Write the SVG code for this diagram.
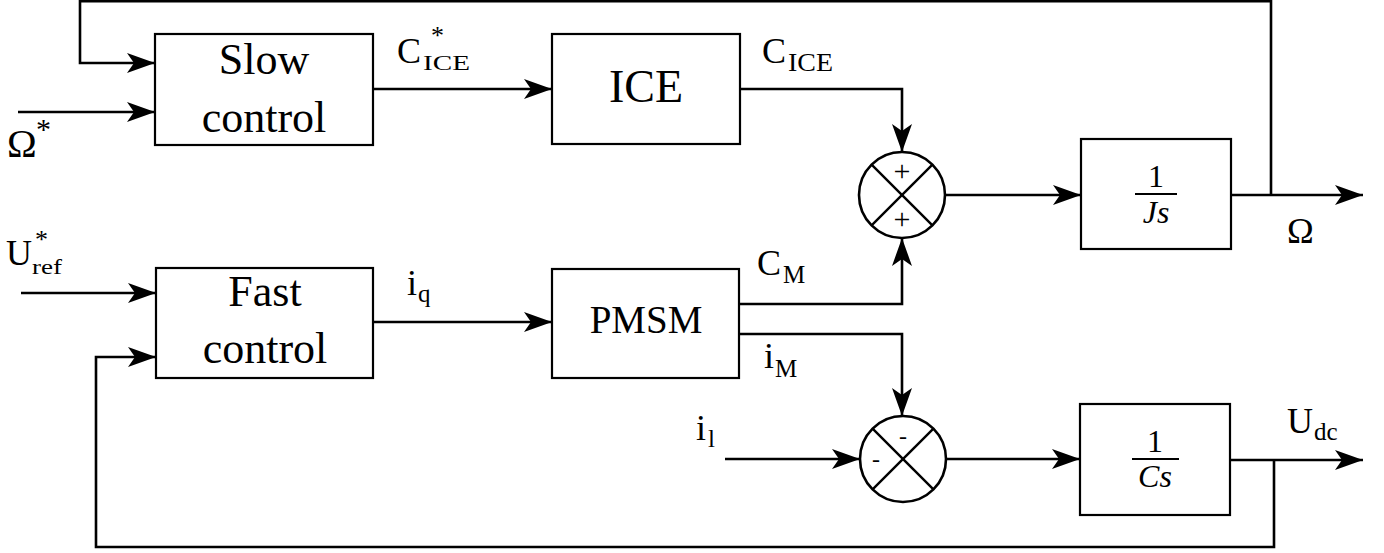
<svg xmlns="http://www.w3.org/2000/svg" width="1384" height="553" viewBox="0 0 1384 553">
<style>
.box{fill:#fff;stroke:#000;stroke-width:2.2}
.sum{fill:#fff;stroke:#000;stroke-width:2.6}
.x{stroke:#000;stroke-width:2.4}
.w{stroke:#000;stroke-width:2.6;fill:none}
.big{font-size:44px}
.lab{font-size:36px}
.sub{font-size:25px}
.sub2{font-size:22px}
.star{font-size:30px}
.star2{font-size:26px}
.frac{font-size:32px}
.it{font-style:italic}
.sgn{font-size:30px}
.mn{font-size:24px}
</style>
<defs>
<marker id="ah" viewBox="0 0 28 20" refX="28" refY="10" markerWidth="28" markerHeight="20" markerUnits="userSpaceOnUse" orient="auto">
<path d="M0,0 L28,10 L0,20 L7,10 z" fill="#000"/>
</marker>
</defs>
<rect width="1384" height="553" fill="#fff"/>
<g id="connectors">
<path class="w" d="M1271,195 V1.3 H80 V63 H155" marker-end="url(#ah)"/>
<path class="w" d="M18,112 H155" marker-end="url(#ah)"/>
<path class="w" d="M373,89 H552" marker-end="url(#ah)"/>
<path class="w" d="M740,89 H902 V152" marker-end="url(#ah)"/>
<path class="w" d="M945,195 H1081" marker-end="url(#ah)"/>
<path class="w" d="M1231,195 H1363" marker-end="url(#ah)"/>
<path class="w" d="M21,293 H156" marker-end="url(#ah)"/>
<path class="w" d="M1274,460 V547 H96 V357 H156" marker-end="url(#ah)"/>
<path class="w" d="M373,322 H552" marker-end="url(#ah)"/>
<path class="w" d="M739,304 H902 V238" marker-end="url(#ah)"/>
<path class="w" d="M739,334 H902 V416" marker-end="url(#ah)"/>
<path class="w" d="M725,459 H860" marker-end="url(#ah)"/>
<path class="w" d="M946,459 H1080" marker-end="url(#ah)"/>
<path class="w" d="M1230,460 H1363" marker-end="url(#ah)"/>
</g>
<g font-family="Liberation Serif, Tinos, Times New Roman, Noto Serif, DejaVu Serif, serif" fill="#000">
<g id="slow">
<rect class="box" x="155" y="34" width="218" height="111"/>
<text class="big" x="264" y="74" text-anchor="middle">Slow</text>
<text class="big" x="264" y="132" text-anchor="middle">control</text>
</g>
<g id="ice">
<rect class="box" x="552" y="34" width="188" height="110"/>
<text x="646" y="102" text-anchor="middle" font-size="46">ICE</text>
</g>
<g id="sum1">
<circle class="sum" cx="902" cy="195" r="43"/>
<line class="x" x1="871.6" y1="164.6" x2="932.4" y2="225.4"/>
<line class="x" x1="932.4" y1="164.6" x2="871.6" y2="225.4"/>
<text class="sgn" x="902" y="181" text-anchor="middle">+</text>
<text class="sgn" x="902" y="229" text-anchor="middle">+</text>
</g>
<g id="js">
<rect class="box" x="1081" y="139" width="150" height="110"/>
<text class="frac" x="1156" y="187" text-anchor="middle">1</text>
<line x1="1135" y1="194" x2="1177" y2="194" stroke="#000" stroke-width="2"/>
<text class="frac it" x="1156" y="223" text-anchor="middle">Js</text>
</g>
<g id="fast">
<rect class="box" x="156" y="268" width="217" height="110"/>
<text class="big" x="265" y="306" text-anchor="middle">Fast</text>
<text class="big" x="265" y="363" text-anchor="middle">control</text>
</g>
<g id="pmsm">
<rect class="box" x="552" y="269" width="187" height="109"/>
<text x="646" y="333" text-anchor="middle" font-size="39">PMSM</text>
</g>
<g id="sum2">
<circle class="sum" cx="903" cy="459" r="43"/>
<line class="x" x1="872.6" y1="428.6" x2="933.4" y2="489.4"/>
<line class="x" x1="933.4" y1="428.6" x2="872.6" y2="489.4"/>
<text class="mn" x="903" y="444" text-anchor="middle">-</text>
<text class="mn" x="876" y="467" text-anchor="middle">-</text>
</g>
<g id="cs">
<rect class="box" x="1080" y="404" width="150" height="111"/>
<text class="frac" x="1155" y="452" text-anchor="middle">1</text>
<line x1="1132" y1="459" x2="1179" y2="459" stroke="#000" stroke-width="2"/>
<text class="frac it" x="1155" y="487" text-anchor="middle">Cs</text>
</g>
<g id="labels">
<text class="lab" x="7" y="157"><tspan font-size="40">Ω</tspan><tspan class="star" x="36" y="139">*</tspan></text>
<text class="lab" x="397" y="63">C<tspan class="star2" x="431" y="44">*</tspan><tspan class="sub2" x="423" y="70" textLength="47" lengthAdjust="spacingAndGlyphs">ICE</tspan></text>
<text class="lab" x="762" y="63">C<tspan class="sub" x="788" y="71" textLength="45" lengthAdjust="spacingAndGlyphs">ICE</tspan></text>
<text class="lab" x="6" y="265">U<tspan class="star2" x="35" y="248">*</tspan><tspan class="sub2" x="32" y="274" textLength="30" lengthAdjust="spacingAndGlyphs">ref</tspan></text>
<text class="lab" x="407" y="295">i<tspan class="sub" x="418" y="302">q</tspan></text>
<text class="lab" x="757" y="275">C<tspan class="sub" x="783" y="283">M</tspan></text>
<text class="lab" x="764" y="368">i<tspan class="sub" x="775" y="377">M</tspan></text>
<text class="lab" x="696" y="440">i<tspan class="sub" x="708" y="447">l</tspan></text>
<text class="lab" x="1287" y="433">U<tspan class="sub" x="1314" y="440">dc</tspan></text>
<text class="lab" x="1287" y="243" font-size="40">Ω</text>
</g>
</g>
</svg>
